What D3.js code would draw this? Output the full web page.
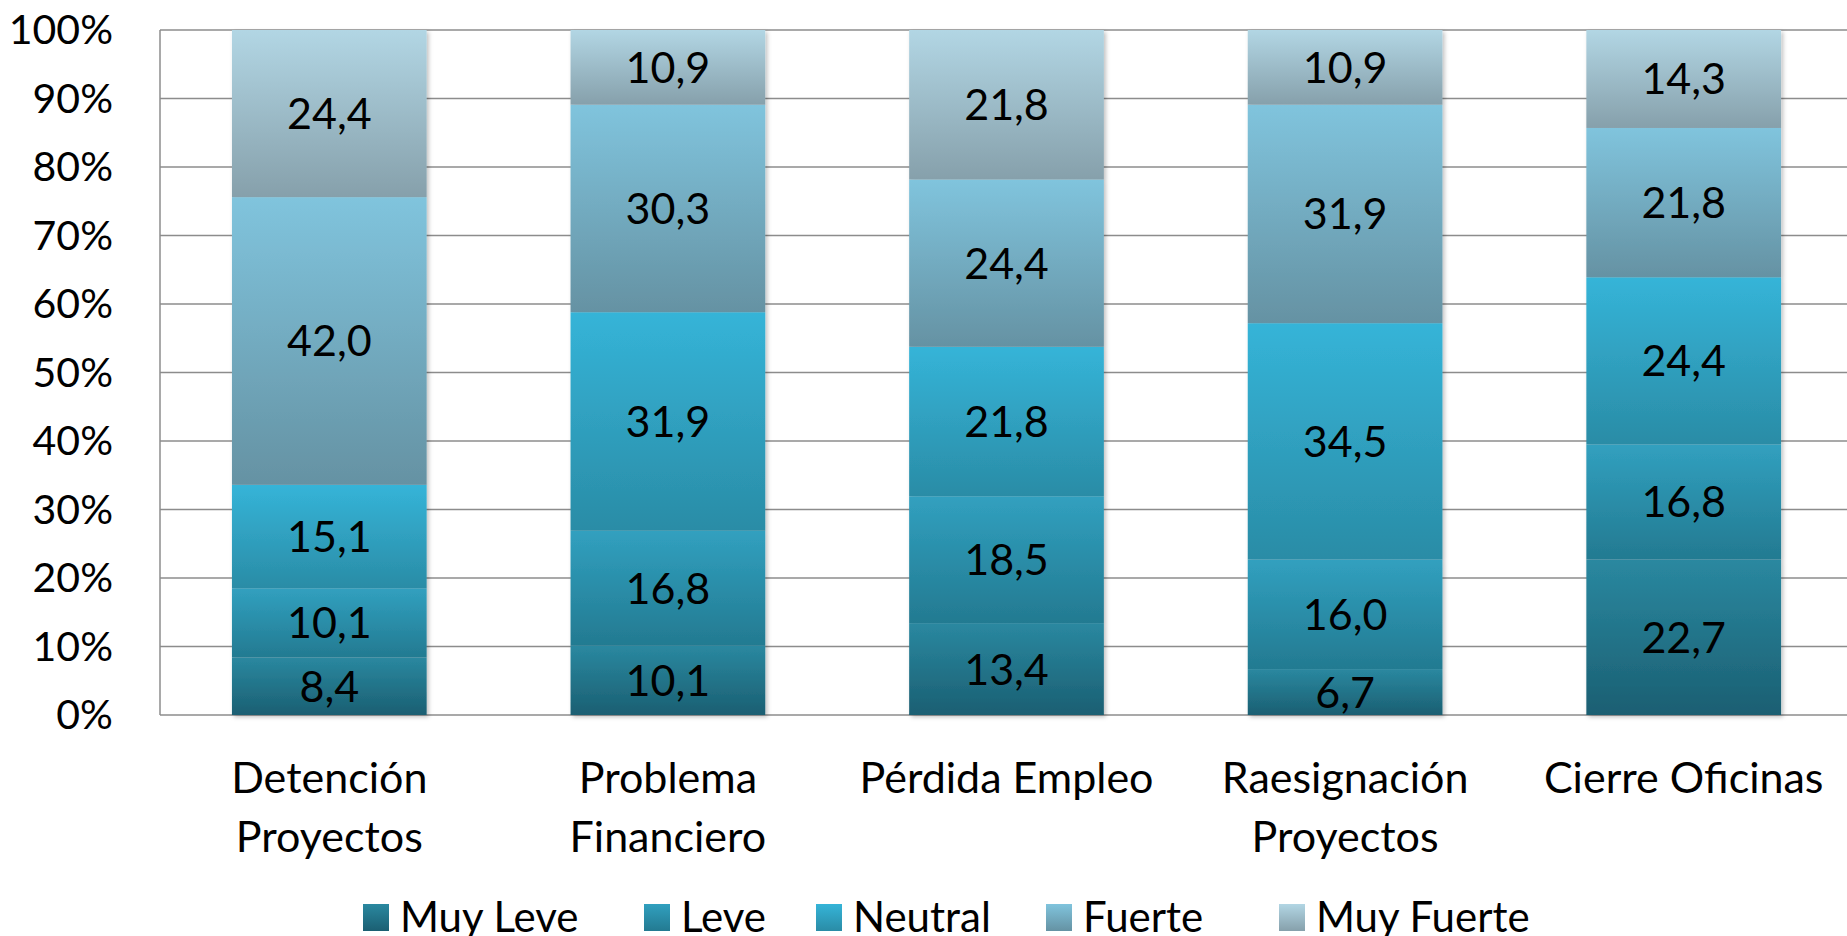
<!DOCTYPE html>
<html>
<head>
<meta charset="utf-8">
<script src="https://cdn.jsdelivr.net/npm/d3@7"></script>
<style>
  html, body { margin: 0; padding: 0; background: #fff; }
  svg { display: block; font-family: Lato, "Open Sans", sans-serif; }
</style>
</head>
<body>
<svg id="chart" width="1847" height="936"></svg>
<script>
// categories (two-line labels)
var categories = ["Detención Proyectos", "Problema Financiero", "Pérdida Empleo", "Raesignación Proyectos", "Cierre Oficinas"];
var categoryLines = [["Detención", "Proyectos"], ["Problema", "Financiero"], ["Pérdida Empleo"], ["Raesignación", "Proyectos"], ["Cierre Oficinas"]];

var seriesNames = ["Muy Leve", "Leve", "Neutral", "Fuerte", "Muy Fuerte"];

// values per series, one per category
var muyLeve   = [8.4, 10.1, 13.4, 6.7, 22.7];
var leve      = [10.1, 16.8, 18.5, 16.0, 16.8];
var neutral   = [15.1, 31.9, 21.8, 34.5, 24.4];
var fuerte    = [42.0, 30.3, 24.4, 31.9, 21.8];
var muyFuerte = [24.4, 10.9, 21.8, 10.9, 14.3];

var yTicks = [0, 0.1, 0.2, 0.3, 0.4, 0.5, 0.6, 0.7, 0.8, 0.9, 1];

var gradTop    = ["#2a88a0", "#31a0bf", "#35b4d8", "#80c4dd", "#b2d6e4"];
var gradBottom = ["#1b5f72", "#237a91", "#2a8ca6", "#6592a3", "#86a0ab"];

var allSeries = [muyLeve, leve, neutral, fuerte, muyFuerte];
var rows = categories.map(function(c, i){
	var r = {cat: c};
	seriesNames.forEach(function(s, j){ r[s] = allSeries[j][i]; });
	return r;
});

var svg = d3.select("#chart"),
	margin = {left: 160, right: -6, top: 30, bottom: 221},
	width = 1847 - margin.left - margin.right,
	height = 936 - margin.top - margin.bottom;

var defs = svg.append("defs");
seriesNames.forEach(function(s, j){
	var g = defs.append("linearGradient").attr("id", "grad" + j)
		.attr("x1", 0).attr("y1", 0).attr("x2", 0).attr("y2", 1);
	g.append("stop").attr("offset", "0%").attr("stop-color", gradTop[j]);
	g.append("stop").attr("offset", "100%").attr("stop-color", gradBottom[j]);
});
var shadow = defs.append("filter").attr("id", "shadow")
	.attr("x", "-10%").attr("y", "-10%").attr("width", "130%").attr("height", "130%");
shadow.append("feDropShadow").attr("dx", 2).attr("dy", 2).attr("stdDeviation", 2)
	.attr("flood-color", "#000").attr("flood-opacity", 0.25);

var x = d3.scaleBand().domain(categories).range([0, width]).paddingInner(0.425).paddingOuter(0.2125);
var y = d3.scaleLinear().domain([0, 1]).range([height, 0]);

var g = svg.append("g").attr("transform", "translate(" + margin.left + "," + margin.top + ")");

// gridlines
g.selectAll(".grid").data(yTicks).enter().append("line")
	.attr("x1", 0).attr("x2", width)
	.attr("y1", function(d){ return y(d); }).attr("y2", function(d){ return y(d); })
	.attr("stroke", "#8c8c8c").attr("stroke-width", 1.5);
g.append("line").attr("x1", 0).attr("x2", 0).attr("y1", 0).attr("y2", height)
	.attr("stroke", "#8c8c8c").attr("stroke-width", 1.5);

// y axis labels
g.selectAll(".ylab").data(yTicks).enter().append("text")
	.attr("x", -47).attr("y", function(d){ return y(d); })
	.attr("text-anchor", "end").attr("dy", "0.35em")
	.attr("font-size", 41).attr("fill", "#000")
	.text(function(d){ return d3.format(".0%")(d); });

var stack = d3.stack().keys(seriesNames).offset(d3.stackOffsetExpand);
var layers = stack(rows);

var bars = g.append("g").attr("filter", "url(#shadow)");
layers.forEach(function(layer, j){
	bars.selectAll(".s" + j).data(layer).enter().append("rect")
		.attr("x", function(d){ return x(d.data.cat); })
		.attr("width", x.bandwidth())
		.attr("y", function(d){ return y(d[1]); })
		.attr("height", function(d){ return y(d[0]) - y(d[1]); })
		.attr("fill", "url(#grad" + j + ")");
});

layers.forEach(function(layer, j){
	g.selectAll(".l" + j).data(layer).enter().append("text")
		.attr("x", function(d){ return x(d.data.cat) + x.bandwidth() / 2; })
		.attr("y", function(d){ return y((d[0] + d[1]) / 2); })
		.attr("text-anchor", "middle").attr("dy", "0.36em")
		.attr("font-size", 43).attr("fill", "#000")
		.text(function(d){ return d3.format(".1f")(d.data[layer.key]).replace(".", ","); });
});

// category labels
categories.forEach(function(c, i){
	var t = g.append("text")
		.attr("x", x(c) + x.bandwidth() / 2).attr("y", height + 78)
		.attr("text-anchor", "middle").attr("font-size", 43).attr("fill", "#000");
	categoryLines[i].forEach(function(line, k){
		t.append("tspan").attr("x", x(c) + x.bandwidth() / 2).attr("dy", k ? 59 : 0).text(line);
	});
});

// legend
var legendX = [363, 644, 816, 1046, 1279];
var legend = svg.append("g");
seriesNames.forEach(function(s, j){
	legend.append("rect").attr("x", legendX[j]).attr("y", 904).attr("width", 26).attr("height", 27)
		.attr("fill", "url(#grad" + j + ")");
	legend.append("text").attr("x", legendX[j] + 37).attr("y", 932)
		.attr("font-size", 42).attr("fill", "#000")
		.text(s);
});
</script>
</body>
</html>
